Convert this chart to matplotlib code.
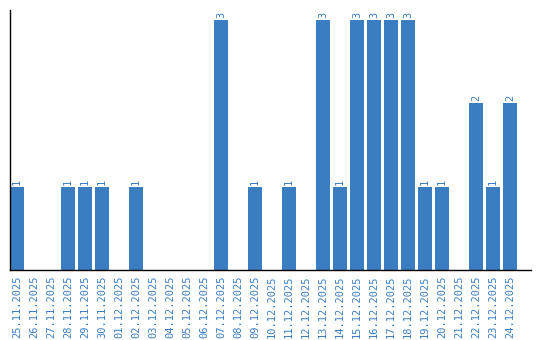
import numpy as np
import matplotlib.pyplot as plt

dates = ['25.11.2025', '26.11.2025', '27.11.2025', '28.11.2025', '29.11.2025',
         '30.11.2025', '01.12.2025', '02.12.2025', '03.12.2025', '04.12.2025',
         '05.12.2025', '06.12.2025', '07.12.2025', '08.12.2025', '09.12.2025',
         '10.12.2025', '11.12.2025', '12.12.2025', '13.12.2025', '14.12.2025',
         '15.12.2025', '16.12.2025', '17.12.2025', '18.12.2025', '19.12.2025',
         '20.12.2025', '21.12.2025', '22.12.2025', '23.12.2025', '24.12.2025']
counts = [1, 0, 0, 1, 1, 1, 0, 1, 0, 0,
          0, 0, 3, 0, 1, 0, 1, 0, 3, 1,
          3, 3, 3, 3, 1, 1, 0, 2, 1, 2]

blue = '#3b7dc1'

fig = plt.figure(figsize=(5.4, 3.4), dpi=100)
ax = fig.add_axes([10 / 540, 70 / 340, 521 / 540, 260 / 340])

x = np.arange(len(dates))
w = 14 / 17
ax.bar(x, counts, width=w, color=blue)

for xi, c in zip(x, counts):
    if c > 0:
        ax.text(xi, c + 0.02, str(c), rotation=90, ha='center', va='bottom',
                color=blue, fontsize=7.5, family='DejaVu Sans Mono')

ax.set_xlim(-w / 2, -w / 2 + 521 / 17)
ax.set_ylim(0, 260 / 83.5)
ax.set_xticks(x)
ax.set_xticklabels(dates, rotation=90, color=blue, fontsize=7.5,
                   family='DejaVu Sans Mono')
ax.tick_params(axis='x', length=0, pad=4)
ax.set_yticks([])
ax.spines['top'].set_visible(False)
ax.spines['right'].set_visible(False)
ax.spines['left'].set_linewidth(1)
ax.spines['bottom'].set_linewidth(1)

plt.savefig('out.png', dpi=100)
